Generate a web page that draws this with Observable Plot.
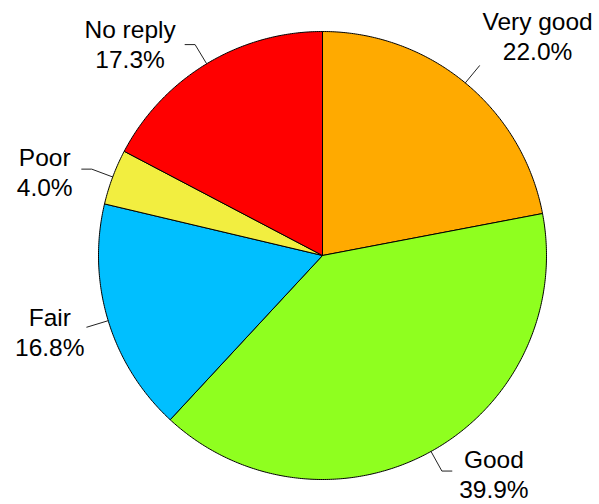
<!DOCTYPE html>
<html><head><meta charset="utf-8">
<script src="https://cdn.jsdelivr.net/npm/d3@7"></script>
<script src="https://cdn.jsdelivr.net/npm/@observablehq/plot@0.6"></script>
<style>body{margin:0;background:#fff}</style>
</head><body><div id="chart"></div>
<script>
const categories = ["Very good", "Good", "Fair", "Poor", "No reply"];
const percents = [22.0, 39.9, 16.8, 4.0, 17.3];
const colors = ["#FFAA00", "#8FFF1F", "#00BFFF", "#F2EE40", "#FF0000"];

const W = 599, H = 504, cx = 322, cy = 255, R = 224;
const rOut = 1.1;
// per-label leader elbow (px) and label centre offset from leader end (px)
const elbow = [0, 10, 0, 10, 10];
const offs = [[58, -30], [42, 2], [-37, 4], [-37, 2], [-55, -1]];

const slices = [], leaders = [], labels = [];
let cum = 0;
categories.forEach((c, i) => {
  const a0 = cum / 100 * 2 * Math.PI;
  cum += percents[i];
  const a1 = cum / 100 * 2 * Math.PI;
  slices.push({key: c, x: 0, y: 0});
  const n = Math.max(2, Math.ceil((a1 - a0) / (Math.PI / 360)));
  for (let k = 0; k <= n; k++) {
    const a = a0 + (a1 - a0) * k / n;
    slices.push({key: c, x: Math.sin(a), y: Math.cos(a)});
  }
  slices.push({key: c, x: 0, y: 0});
  const am = (a0 + a1) / 2;
  const s = Math.sin(am) >= 0 ? 1 : -1;
  const ex = rOut * Math.sin(am), ey = rOut * Math.cos(am);
  const fx = ex + s * elbow[i] / R;
  leaders.push({key: c, x: Math.sin(am), y: Math.cos(am)});
  leaders.push({key: c, x: ex, y: ey});
  leaders.push({key: c, x: fx, y: ey});
  labels.push({text: c + "\n" + percents[i].toFixed(1) + "%", x: fx + offs[i][0] / R, y: ey - offs[i][1] / R});
});

const chart = Plot.plot({
  width: W, height: H, margin: 0,
  x: {axis: null, domain: [-cx / R, (W - cx) / R]},
  y: {axis: null, domain: [(cy - H) / R, cy / R]},
  color: {domain: categories, range: colors},
  style: {fontFamily: "'Liberation Sans', Arial, sans-serif", background: "white", overflow: "visible"},
  marks: [
    Plot.line(slices, {x: "x", y: "y", z: "key", fill: "key", stroke: "black", strokeWidth: 1, strokeLinejoin: "round"}),
    Plot.line(leaders, {x: "x", y: "y", z: "key", stroke: "#222", strokeWidth: 1}),
    Plot.text(labels, {x: "x", y: "y", text: "text", fontSize: 24.5, lineHeight: 1.22, fill: "black", textAnchor: "middle"})
  ]
});
document.getElementById("chart").appendChild(chart);
</script>
</body></html>
